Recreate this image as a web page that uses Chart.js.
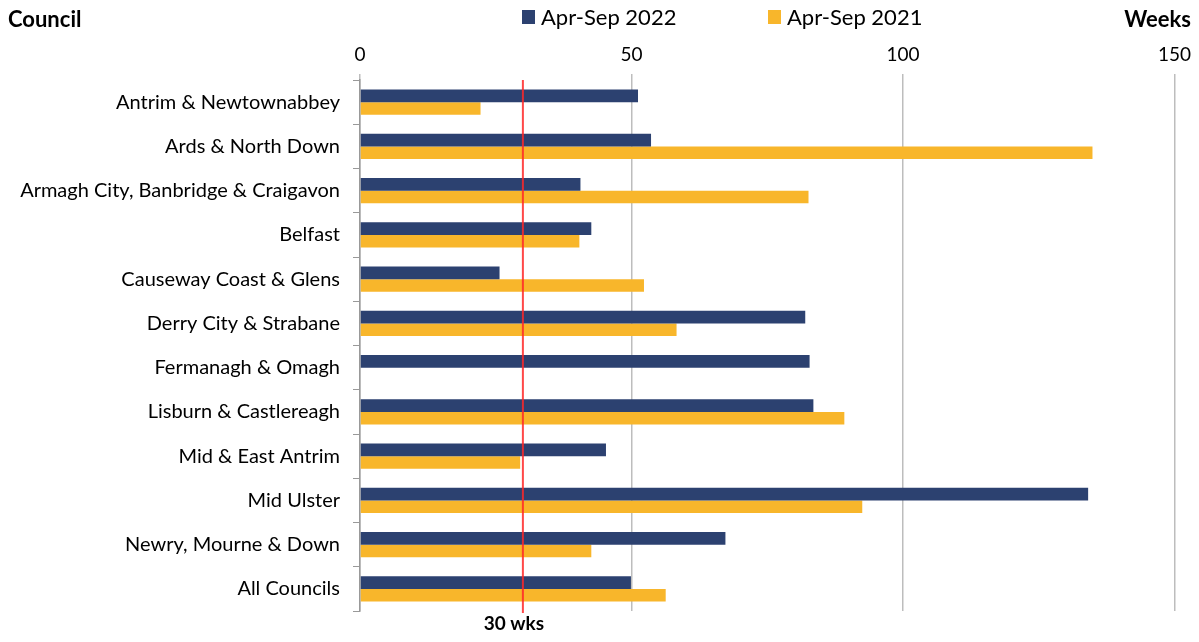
<!DOCTYPE html>
<html>
<head>
<meta charset="utf-8">
<script src="https://cdn.jsdelivr.net/npm/chart.js@4/dist/chart.umd.min.js"></script>
<style>
  html, body { margin: 0; padding: 0; background: #fff; }
  #wrap { width: 1199px; height: 642px; }
</style>
</head>
<body>
<div id="wrap"><canvas id="chart" width="1199" height="642"></canvas></div>
<script>
const councils = [
  "Antrim & Newtownabbey",
  "Ards & North Down",
  "Armagh City, Banbridge & Craigavon",
  "Belfast",
  "Causeway Coast & Glens",
  "Derry City & Strabane",
  "Fermanagh & Omagh",
  "Lisburn & Castlereagh",
  "Mid & East Antrim",
  "Mid Ulster",
  "Newry, Mourne & Down",
  "All Councils"
];
const weeks2022 = [51.2, 53.6, 40.6, 42.6, 25.7, 82.0, 82.8, 83.5, 45.3, 134.1, 67.3, 49.9];
const weeks2021 = [22.2, 134.9, 82.6, 40.4, 52.3, 58.3, null, 89.2, 29.5, 92.5, 42.6, 56.3];
const seriesNames = ["Apr-Sep 2022", "Apr-Sep 2021"];
const xTicks = [0, 50, 100, 150];
const target = 30;
const targetLabel = "30 wks";

const FONT = "Lato, 'Open Sans', sans-serif";
const colours = ["#2C4170", "#F8B62B"];

const extras = {
  id: "extras",
  afterDraw(chart) {
    const { ctx, scales } = chart;
    const x = scales.x;
    const area = chart.chartArea;

    ctx.save();
    // target line
    const tx = x.getPixelForValue(target);
    ctx.strokeStyle = "rgba(255, 40, 40, 0.85)";
    ctx.lineWidth = 2;
    ctx.beginPath();
    ctx.moveTo(tx, area.top);
    ctx.lineTo(tx, area.bottom + 2);
    ctx.stroke();

    ctx.fillStyle = "#000";
    ctx.font = "bold 19px " + FONT;
    ctx.textAlign = "center";
    ctx.textBaseline = "middle";
    ctx.fillText(targetLabel, tx - 9, 624);

    // axis titles
    ctx.font = "bold 22px " + FONT;
    ctx.textAlign = "left";
    ctx.fillText("Council", 8, 20);
    ctx.textAlign = "right";
    ctx.fillText("Weeks", 1191, 20);

    // legend
    ctx.font = "22px " + FONT;
    ctx.textAlign = "left";
    const legendX = [522, 768];
    chart.data.datasets.forEach((ds, i) => {
      ctx.fillStyle = ds.backgroundColor;
      ctx.fillRect(legendX[i], 10, 13, 14);
      ctx.fillStyle = "#000";
      ctx.fillText(ds.label, legendX[i] + 19, 18);
    });
    ctx.restore();
  }
};

new Chart(document.getElementById("chart"), {
  type: "bar",
  data: {
    labels: councils,
    datasets: [
      { label: seriesNames[0], data: weeks2022, backgroundColor: colours[0] },
      { label: seriesNames[1], data: weeks2021, backgroundColor: colours[1] }
    ]
  },
  options: {
    indexAxis: "y",
    responsive: false,
    animation: false,
    layout: { padding: { left: 0, right: 20, top: 0, bottom: 31 } },
    datasets: {
      bar: { categoryPercentage: 0.57, barPercentage: 1.0 }
    },
    scales: {
      x: {
        position: "top",
        min: 0,
        max: 150,
        afterBuildTicks(axis) {
          axis.ticks = xTicks.map(v => ({ value: v }));
        },
        afterFit(axis) { axis.height = 80; },
        grid: { color: "#BDBDBD", lineWidth: 1.5, tickLength: 6, drawTicks: true },
        border: { display: false },
        ticks: { color: "#000", font: { family: FONT, size: 19 }, padding: 8 }
      },
      y: {
        afterFit(axis) { axis.width = 360; },
        grid: { offset: true, drawOnChartArea: false, color: "#999", tickLength: 7 },
        border: { display: true, color: "#999", width: 1.5 },
        ticks: { color: "#000", font: { family: FONT, size: 20 }, padding: 13 }
      }
    },
    plugins: {
      legend: { display: false },
      tooltip: { enabled: false }
    }
  },
  plugins: [extras]
});
</script>
</body>
</html>
